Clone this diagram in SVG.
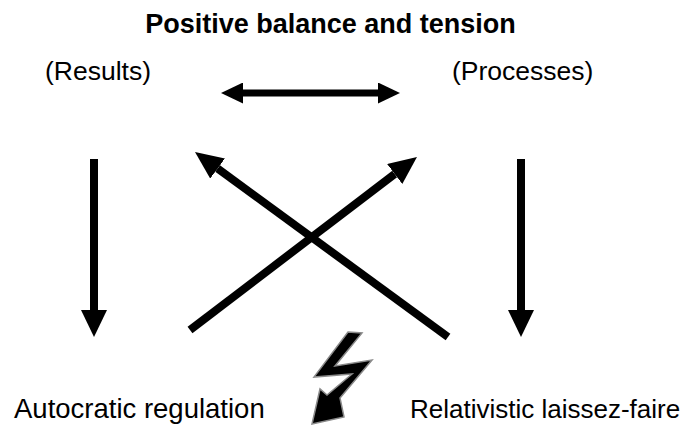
<svg xmlns="http://www.w3.org/2000/svg" width="699" height="425" viewBox="0 0 699 425">
<style>
text{font-family:"Liberation Sans",Arial,sans-serif;fill:#000}
.lbl{font-size:26.5px}
.title{font-size:27px;font-weight:bold}
.arr{stroke:#000;stroke-width:8;fill:none}
.thin{stroke:#000;stroke-width:7;fill:none}
</style>
<defs>
<marker id="hd" markerUnits="userSpaceOnUse" markerWidth="28" markerHeight="26" refX="0" refY="13" orient="auto" viewBox="0 0 28 26"><path d="M0,0 L27,13 L0,26 z" fill="#000"/></marker>
<marker id="hx" markerUnits="userSpaceOnUse" markerWidth="29" markerHeight="25" refX="0" refY="12.5" orient="auto" viewBox="0 0 29 25"><path d="M0,0 L28,12.5 L0,25 z" fill="#000"/></marker>
<marker id="hs" markerUnits="userSpaceOnUse" markerWidth="23" markerHeight="21" refX="0" refY="10.5" orient="auto-start-reverse" viewBox="0 0 23 21"><path d="M0,0 L22,10.5 L0,21 z" fill="#000"/></marker>
</defs>
<g id="title"><text class="title" x="330.5" y="33" text-anchor="middle">Positive balance and tension</text></g>
<g id="results"><text class="lbl" x="45" y="80">(Results)</text></g>
<g id="processes"><text class="lbl" x="452" y="80">(Processes)</text></g>
<g id="autocratic"><text class="lbl" x="14" y="418" style="font-size:27.5px">Autocratic regulation</text></g>
<g id="relativistic"><text class="lbl" x="410" y="418" style="font-size:26px">Relativistic laissez-faire</text></g>
<g id="connectors">
<line class="thin" x1="243" y1="93" x2="378" y2="93" marker-start="url(#hs)" marker-end="url(#hs)"/>
<line class="arr" x1="94" y1="159" x2="94" y2="310" marker-end="url(#hd)"/>
<line class="arr" x1="521" y1="159" x2="521" y2="310" marker-end="url(#hd)"/>
<line class="arr" x1="448" y1="337" x2="217.6" y2="168.5" marker-end="url(#hx)"/>
<line class="arr" x1="190" y1="330" x2="394.7" y2="174" marker-end="url(#hx)"/>
</g>
<g id="bolt">
<polygon points="348,332 362,333 335,366 372,360 340,398 344,417 312,424 320,389 327,395 352,374 314,377" fill="#000" stroke="#8a8a8a" stroke-width="1.5" stroke-linejoin="miter"/>
</g>
</svg>
